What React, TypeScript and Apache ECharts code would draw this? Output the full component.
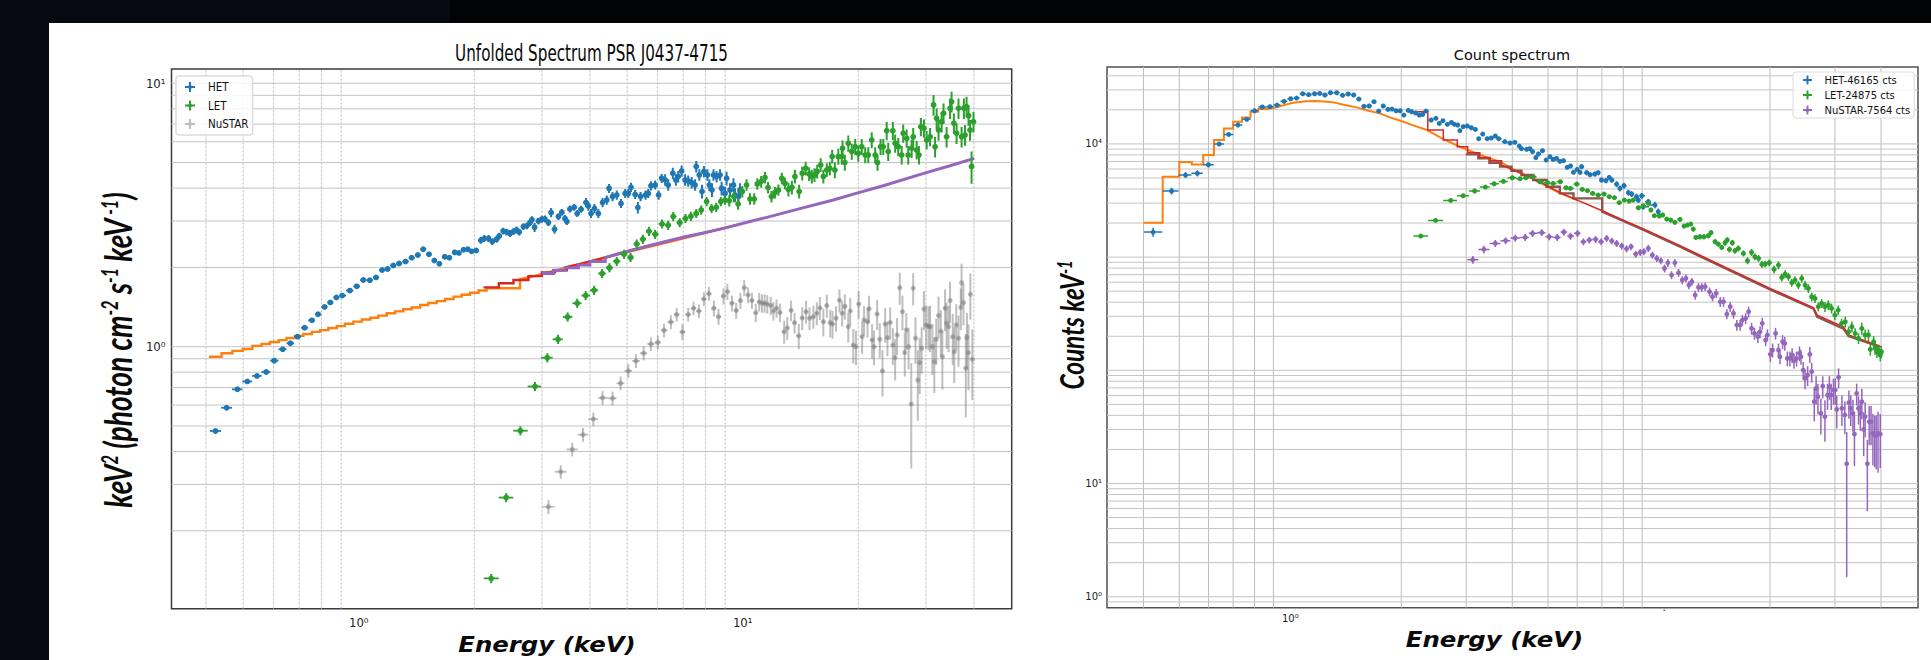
import React, { useEffect, useRef } from "react";
import * as echarts from "echarts";

// Values are decades: log10(energy in keV), log10(flux), log10(counts per keV)
const leftHetLogE = [-.373,-.344,-.316,-.290,-.265,-.241,-.220,-.198,-.178,-.159,-.141,-.122,-.106,-.089,-.074,-.058,-.043,-.023,-.005,.012,.029,.045,.061,.075,.090,.105,.122,.138,.154,.168,.183,.197,.210,.224,.236,.250,.261,.273,.284,.294,.306,.318,.327,.338,.348,.359,.366,.376,.385,.394,.403,.411,.418,.429,.438,.446,.451,.458,.468,.477,.485,.494,.501,.510,.520,.529,.537,.542,.550,.561,.569,.579,.592,.598,.605,.614,.624,.635,.646,.652,.661,.672,.683,.694,.702,.709,.720,.727,.734,.747,.754,.761,.772,.781,.789,.798,.806,.818,.826,.832,.841,.850,.858,.867,.876,.879,.887,.894,.899,.908,.913,.920,.924,.932,.941,.945,.954,.958,.967,.976,.980,.989,.993];
const leftHetLogFlux = [-.320,-.232,-.162,-.132,-.111,-.096,-.053,-.010,.013,.038,.072,.100,.123,.151,.168,.187,.194,.213,.229,.253,.252,.263,.291,.295,.308,.316,.323,.338,.348,.370,.351,.327,.315,.341,.338,.358,.356,.368,.370,.362,.365,.404,.411,.411,.399,.408,.420,.439,.435,.430,.437,.443,.435,.456,.459,.471,.482,.453,.477,.484,.485,.471,.509,.446,.494,.510,.487,.475,.523,.529,.506,.522,.547,.534,.506,.525,.506,.547,.557,.601,.570,.576,.544,.582,.582,.605,.578,.528,.570,.576,.582,.611,.614,.576,.639,.633,.614,.658,.633,.646,.667,.633,.629,.623,.614,.684,.652,.589,.665,.652,.614,.595,.652,.646,.652,.601,.582,.639,.595,.614,.576,.570,.595];
const leftHetErrPct = [2,2,2,2,2,2,2,2,2,2,2,2,2,2,2,2,2,2,2,2,2,2,2,2,2,2,2,2,2,2,2,2,2,2,2,2,2,2,2,2,2,3,3,3,3,3,3,3,3,3,3,3,3,3,3,3,3,4,3,3,3,3,4,4,3,3,3,3,3,3,3,3,4,4,4,4,4,4,4,4,4,4,4,4,4,4,4,5,4,4,4,4,4,4,4,5,5,5,5,5,5,5,5,5,5,5,5,6,5,5,5,6,5,5,5,6,6,6,6,6,6,6,6];

const leftLetLogE = [.345,.384,.421,.459,.491,.519,.544,.569,.591,.613,.634,.653,.672,.691,.708,.724,.740,.756,.772,.790,.806,.819,.836,.851,.865,.879,.892,.906,.919,.931,.943,.954,.965,.977,.988,.999,1.010,1.019,1.030,1.038,1.048,1.058,1.066,1.075,1.084,1.093,1.102,1.110,1.119,1.128,1.136,1.147,1.155,1.164,1.173,1.180,1.187,1.194,1.203,1.210,1.219,1.227,1.233,1.240,1.249,1.258,1.260,1.266,1.275,1.284,1.293,1.301,1.310,1.319,1.327,1.336,1.345,1.351,1.359,1.366,1.375,1.379,1.391,1.397,1.405,1.414,1.418,1.427,1.431,1.440,1.444,1.453,1.459,1.464,1.472,1.479,1.488,1.497,1.501,1.505,1.510,1.518,1.523,1.531,1.540,1.544,1.550,1.557,1.562,1.570,1.576,1.579,1.583,1.588,1.592,1.596,1.601];
const leftLetLogFlux = [-.880,-.573,-.319,-.151,-.042,.028,.113,.165,.194,.214,.278,.300,.324,.351,.339,.390,.408,.438,.427,.466,.461,.494,.471,.487,.495,.506,.519,.551,.525,.529,.551,.557,.554,.570,.542,.589,.614,.561,.561,.618,.627,.642,.604,.570,.585,.595,.639,.620,.597,.605,.646,.589,.658,.677,.656,.646,.652,.665,.690,.646,.671,.677,.722,.671,.722,.722,.753,.699,.772,.741,.759,.734,.759,.728,.728,.785,.728,.699,.759,.759,.820,.741,.820,.772,.759,.728,.810,.791,.728,.753,.797,.747,.728,.835,.829,.785,.797,.918,.759,.867,.823,.854,.886,.797,.905,.930,.848,.810,.905,.797,.905,.804,.911,.880,.823,.684,.854];
const leftLetErrPct = [4,4,4,4,4,4,4,4,4,4,4,4,4,4,4,4,4,4,4,4,4,4,4,4,4,4,4,4,4,4,4,4,5,5,5,5,5,5,5,5,5,5,5,5,5,5,5,5,6,6,6,6,6,6,6,6,6,6,6,6,6,6,6,7,7,7,7,7,7,7,7,7,7,7,7,7,7,7,7,7,8,8,8,8,8,8,8,8,8,8,8,8,8,8,8,8,8,9,9,9,9,9,9,9,9,9,9,9,9,9,9,9,9,9,9,14,9];

const leftNustarLogE = [.494,.526,.556,.584,.611,.635,.661,.682,.702,.722,.742,.761,.779,.795,.813,.828,.843,.858,.872,.886,.899,.912,.925,.937,.950,.960,.972,.983,.994,1.004,1.014,1.024,1.034,1.043,1.050,1.057,1.064,1.073,1.080,1.088,1.097,1.108,1.116,1.126,1.135,1.146,1.155,1.165,1.174,1.184,1.193,1.201,1.210,1.219,1.228,1.234,1.243,1.252,1.259,1.266,1.275,1.280,1.288,1.295,1.302,1.311,1.316,1.325,1.329,1.337,1.342,1.350,1.357,1.364,1.371,1.377,1.384,1.391,1.397,1.402,1.409,1.416,1.422,1.426,1.432,1.439,1.444,1.450,1.456,1.461,1.466,1.472,1.478,1.484,1.488,1.494,1.499,1.504,1.510,1.516,1.520,1.527,1.531,1.536,1.540,1.547,1.551,1.556,1.562,1.568,1.570,1.575,1.581,1.584,1.588,1.593,1.598];
const leftNustarLogFlux = [-.608,-.475,-.390,-.334,-.275,-.194,-.196,-.139,-.092,-.054,-.025,.010,.016,.062,.094,.122,.056,.122,.146,.135,.181,.201,.146,.114,.192,.209,.165,.137,.175,.224,.196,.175,.129,.170,.165,.165,.162,.156,.135,.146,.130,.057,.071,.138,.091,.041,.109,.133,.108,.114,.127,.147,.095,.156,.091,.086,.108,.176,.127,.153,.076,.135,.006,.000,.162,.038,.101,.095,.144,.025,.000,.124,.028,-.092,.086,.034,.092,.006,-.042,.044,.224,.133,-.022,.063,.000,-.218,.222,.032,-.127,-.061,-.006,.143,.082,.078,.076,.000,-.057,.028,.118,.059,-.038,.146,.089,.076,.175,.038,-.019,.082,.032,.149,.243,.167,-.082,.035,-.023,.199,-.048];
const leftNustarErrPct = [6,6,6,6,6,6,6,6,6,6,6,6,6,6,6,6,7,6,6,6,6,6,7,7,7,7,7,7,7,7,7,7,8,8,8,8,8,8,8,8,8,10,10,9,9,11,10,10,10,10,10,10,12,10,12,12,11,10,11,11,13,12,15,15,12,14,13,13,12,15,15,13,15,20,15,15,14,16,18,16,14,15,19,16,18,43,14,20,30,24,20,17,19,19,20,22,24,20,18,20,25,18,20,20,18,22,24,20,22,18,18,18,35,24,28,20,30];

const rightHetLogE = [-.372,-.322,-.284,-.252,-.222,-.193,-.167,-.142,-.118,-.097,-.076,-.055,-.036,-.017,.001,.017,.034,.050,.066,.080,.094,.109,.126,.142,.157,.172,.186,.200,.214,.227,.240,.252,.265,.276,.287,.298,.308,.320,.329,.340,.350,.359,.368,.382,.395,.404,.414,.426,.437,.445,.454,.460,.469,.480,.491,.502,.511,.522,.534,.545,.556,.565,.582,.596,.609,.621,.627,.641,.650,.657,.666,.673,.684,.694,.704,.713,.722,.731,.741,.751,.760,.768,.778,.786,.790,.804,.813,.826,.835,.844,.856,.865,.872,.885,.894,.905,.917,.926,.939,.944,.953,.971,.957,.989,.998];
const rightHetLogCounts = [3.221,3.584,3.725,3.740,3.816,3.999,4.084,4.167,4.217,4.293,4.326,4.329,4.343,4.376,4.399,4.405,4.443,4.435,4.443,4.446,4.432,4.452,4.452,4.429,4.441,4.432,4.396,4.332,4.335,4.373,4.290,4.335,4.305,4.308,4.293,4.293,4.255,4.296,4.284,4.273,4.255,4.261,4.290,4.211,4.226,4.181,4.205,4.173,4.190,4.173,4.167,4.117,4.152,4.158,4.143,4.128,4.046,4.087,4.046,4.052,4.070,4.046,4.020,4.008,4.014,3.981,3.958,3.952,3.958,3.932,3.879,3.911,3.940,3.858,3.887,3.863,3.872,3.846,3.852,3.793,3.805,3.749,3.775,3.749,3.799,3.746,3.728,3.734,3.746,3.681,3.675,3.705,3.681,3.645,3.607,3.631,3.569,3.557,3.534,3.504,3.542,3.489,3.445,3.460,3.401];
const rightHetErrPct = [9,7,6,6,5,4,4,3,3,3,3,2,2,2,2,2,2,2,2,2,2,2,2,2,2,2,2,2,2,2,2,2,2,2,2,2,2,2,2,3,3,3,3,3,3,3,3,3,3,3,3,3,3,3,3,3,3,3,3,3,3,3,3,3,3,3,3,3,4,4,4,4,4,4,4,4,4,4,4,4,4,4,4,5,5,5,5,5,5,5,5,5,5,6,6,6,6,6,6,6,6,6,6,7,7];

const rightLetLogE = [.354,.394,.435,.469,.500,.529,.553,.578,.602,.623,.639,.659,.677,.698,.713,.732,.748,.760,.777,.792,.806,.820,.835,.851,.865,.879,.892,.906,.919,.930,.944,.957,.971,.978,.987,1.001,1.010,1.021,1.032,1.043,1.057,1.068,1.077,1.086,1.093,1.100,1.111,1.122,1.134,1.141,1.152,1.161,1.170,1.179,1.185,1.191,1.199,1.206,1.215,1.229,1.240,1.251,1.260,1.270,1.279,1.288,1.299,1.312,1.324,1.333,1.342,1.351,1.360,1.369,1.378,1.387,1.396,1.405,1.414,1.423,1.432,1.441,1.450,1.459,1.468,1.477,1.486,1.495,1.505,1.514,1.523,1.532,1.541,1.550,1.559,1.568,1.573,1.582,1.586,1.591,1.595,1.600,1.603];
const rightLetLogCounts = [3.186,3.324,3.501,3.542,3.584,3.619,3.648,3.669,3.701,3.693,3.701,3.710,3.666,3.657,3.651,3.666,3.613,3.607,3.645,3.598,3.587,3.563,3.548,3.557,3.534,3.525,3.481,3.504,3.495,3.504,3.436,3.454,3.475,3.416,3.366,3.363,3.372,3.336,3.327,3.307,3.333,3.274,3.283,3.292,3.248,3.174,3.180,3.180,3.189,3.216,3.136,3.115,3.086,3.127,3.151,3.068,3.127,3.057,3.077,3.033,2.968,3.042,3.003,2.989,2.936,2.939,2.950,2.892,2.930,2.821,2.850,2.827,2.774,2.797,2.753,2.812,2.753,2.724,2.650,2.635,2.562,2.591,2.562,2.577,2.547,2.488,2.532,2.415,2.429,2.341,2.385,2.326,2.282,2.370,2.312,2.312,2.185,2.253,2.194,2.164,2.179,2.135,2.164];
const rightLetErrPct = [4,3,3,3,3,3,3,3,3,3,3,3,3,3,3,3,3,3,3,3,3,3,3,3,3,3,3,3,3,3,3,3,3,3,3,3,4,4,4,4,4,4,4,4,5,5,5,5,5,5,5,5,5,6,6,6,6,6,6,6,7,7,7,7,7,7,7,8,8,8,8,8,8,8,8,8,9,9,9,9,9,9,10,10,10,10,10,10,11,11,11,11,11,12,12,12,12,12,12,12,12,12,12];

const rightNustarLogE = [.495,.525,.556,.584,.610,.637,.657,.682,.702,.724,.742,.760,.779,.795,.811,.828,.843,.858,.872,.885,.899,.912,.924,.937,.949,.959,.971,.982,.994,1.005,1.015,1.024,1.034,1.043,1.053,1.063,1.073,1.081,1.089,1.098,1.107,1.116,1.125,1.137,1.145,1.155,1.166,1.175,1.184,1.193,1.202,1.211,1.220,1.226,1.235,1.243,1.251,1.259,1.268,1.274,1.280,1.289,1.294,1.302,1.308,1.316,1.324,1.328,1.335,1.341,1.348,1.355,1.361,1.366,1.373,1.381,1.385,1.391,1.396,1.403,1.409,1.414,1.421,1.426,1.431,1.439,1.444,1.450,1.457,1.462,1.467,1.473,1.478,1.482,1.487,1.496,1.504,1.509,1.515,1.520,1.526,1.530,1.536,1.541,1.546,1.550,1.555,1.559,1.565,1.570,1.575,1.580,1.585,1.589,1.594,1.600];
const rightNustarLogCounts = [2.977,3.068,3.121,3.145,3.168,3.174,3.210,3.216,3.180,3.174,3.221,3.186,3.210,3.136,3.151,3.157,3.136,3.165,3.142,3.121,3.098,3.074,3.092,3.027,3.042,3.048,3.077,3.018,2.989,2.968,2.900,2.950,2.842,2.950,2.862,2.797,2.812,2.753,2.783,2.665,2.733,2.733,2.739,2.694,2.650,2.680,2.606,2.606,2.497,2.562,2.503,2.400,2.400,2.444,2.459,2.518,2.370,2.326,2.297,2.341,2.415,2.267,2.312,2.141,2.179,2.326,2.179,2.120,2.253,2.238,2.105,2.105,2.135,2.085,2.105,2.150,2.120,2.002,1.929,1.958,2.141,1.988,1.723,1.840,1.767,1.620,1.861,1.590,1.781,1.855,1.781,1.826,1.826,1.655,1.938,1.664,1.605,1.175,1.714,1.664,1.620,1.437,1.796,1.664,1.620,1.723,1.478,1.590,1.175,1.546,1.546,1.443,1.428,1.428,1.443,1.437];
const rightNustarErrPct = [8,8,7,7,7,7,7,7,7,7,7,7,7,7,7,7,7,7,7,7,7,7,7,7,7,7,7,7,7,7,8,8,8,8,8,8,8,8,8,9,9,9,9,9,9,9,10,10,10,10,10,11,11,11,11,11,12,12,12,12,12,12,12,14,14,12,14,14,14,14,15,15,15,15,15,15,15,18,20,20,16,20,33,28,30,35,22,40,26,24,26,26,26,32,20,30,32,90,28,30,32,48,22,28,30,30,42,34,62,38,38,48,48,50,55,50];

const leftModelHetLogE = [-.390,-.357,-.329,-.302,-.277,-.253,-.231,-.208,-.188,-.166,-.144,-.122,-.101,-.079,-.057,-.036,-.014,.008,.030,.051,.073,.095,.116,.138,.160,.181,.203,.225,.247,.268,.290,.312,.333];
const leftModelHetLogFlux = [-.038,-.025,-.016,-.009,.003,.010,.018,.025,.033,.041,.048,.056,.063,.071,.078,.087,.095,.103,.110,.118,.127,.134,.142,.149,.158,.166,.173,.181,.190,.197,.205,.213,.222];
const leftModelHetTailLogE = [.420,.477,.628,.802,.993];
const leftModelHetTailLogFlux = [.256,.275,.334,.395,.465];
const leftModelLetLogE = [.325,.365,.403,.442,.477,.511];
const leftModelLetLogFlux = [.225,.241,.253,.268,.282,.290];
const leftModelLetTailLogE = [.542,.572,.602,.637,.672,.715,.759,.802,.854,.906,.955];
const leftModelLetTailLogFlux = [.303,.312,.323,.336,.351,.368,.384,.400,.418,.434,.451];
const leftModelNustarLogE = [.477,.507,.537,.572,.602];
const leftModelNustarLogFlux = [.278,.290,.300,.310,.323];
const leftModelNustarTailLogE = [.642,.672,.708,.759,.802,.854,.906,.955,1.019,1.063,1.149,1.236,1.302,1.366,1.478,1.540,1.603];
const leftModelNustarTailLogFlux = [.338,.351,.365,.384,.400,.418,.435,.451,.475,.491,.524,.557,.585,.611,.661,.687,.715];

const rightModelHetLogE = [-.398,-.346,-.301,-.267,-.236,-.207,-.180,-.155,-.131,-.108,-.087];
const rightModelHetLogCounts = [3.304,3.710,3.840,3.819,3.902,4.034,4.137,4.196,4.234,4.284,4.308];
const rightModelHetTailLogE = [-.064,-.046,-.028,-.010,.008,.026,.044,.071,.099,.117,.148,.180,.212,.243,.270,.301,.334,.370,.415,.460,.481,.542,.569,.600,.650,.732,.778];
const rightModelHetTailLogCounts = [4.314,4.317,4.332,4.349,4.364,4.370,4.376,4.379,4.373,4.367,4.343,4.323,4.293,4.270,4.234,4.202,4.164,4.123,4.043,3.975,3.946,3.872,3.843,3.784,3.704,3.563,3.504];
const rightModelLetLogE = [.343,.373,.415,.453,.481,.514,.542];
const rightModelLetLogCounts = [4.284,4.123,4.034,3.975,3.922,3.881,3.852];
const rightModelLetTailLogE = [.573,.605,.641,.677,.700,.731,.778,.846,.903,.955,1.057,1.129,1.301,1.419,1.429,1.500,1.514,1.554,1.602];
const rightModelLetTailLogCounts = [3.813,3.769,3.716,3.666,3.622,3.572,3.504,3.410,3.327,3.254,3.101,2.989,2.724,2.553,2.488,2.385,2.312,2.267,2.208];
const rightModelNustarLogE = [.476,.510,.540,.569,.600,.627,.659,.695,.731,.768];
const rightModelNustarLogCounts = [3.908,3.872,3.834,3.799,3.763,3.725,3.681,3.622,3.563,3.519];
const rightModelNustarTailLogE = [.846,.903,.955,1.057,1.129,1.301,1.419,1.429,1.500,1.514,1.554,1.599];
const rightModelNustarTailLogCounts = [3.401,3.319,3.245,3.092,2.980,2.715,2.544,2.473,2.368,2.303,2.259,2.208];

const energyGridValues = [.4,.5,.6,.7,.8,.9,2,3,4,5,6,7,8,9,20,30,40];
const leftFluxGridValues = [.2,.3,.4,.5,.6,.7,.8,.9,1,2,3,4,5,6,7,8,9,10];
const rightCountGridValues = [.9,1,2,3,4,5,6,7,8,9,10,20,30,40,50,60,70,80,90,100,200,300,400,500,600,700,800,900,1000,2000,3000,4000,5000,6000,7000,8000,9000,10000,20000,30000,40000];
const leftEnergyTickLabels = [1, 10];
const rightEnergyTickLabels = [1];
const leftFluxTickLabels = [1, 10];
const rightCountTickLabels = [1, 10, 10000];

const BLUE = "#1f77b4", ORANGE = "#ff7f0e", GREEN = "#2ca02c", RED = "#d62728", PURPLE = "#9467bd", BROWN = "#8c564b", GREY = "#7f7f7f";
const ICON = "path://M4 0h2v3.2a2 2 0 0 1 .8.8H10v2H6.8a2 2 0 0 1-.8.8V10H4V6.8a2 2 0 0 1-.8-.8H0V4h3.2a2 2 0 0 1 .8-.8z";
const SUP: Record<number, string> = { 0: "\u2070", 1: "\u00b9", 4: "\u2074" };
const decadeLabel = (v: number) => "10" + (SUP[Math.round(Math.log10(v))] ?? "");
const NARROW = '"DejaVu Sans Condensed", Lato, sans-serif';

function pointData(logE: number[], logV: number[], pct: number[]) {
  return logE.map((e, i) => {
    const prev = i > 0 ? Math.abs(e - logE[i - 1]) : Math.abs(logE[1] - e);
    const next = i < logE.length - 1 ? Math.abs(logE[i + 1] - e) : prev;
    const v = 10 ** logV[i];
    const p = (pct[i] ?? pct[pct.length - 1]) / 100;
    return [10 ** e, v, 10 ** (e - prev / 2), 10 ** (e + next / 2), Math.max(v * (1 - p), v * 0.02), v * (1 + p)];
  });
}

function pointSeries(name: string, color: string, axis: number, data: number[][], r: number, xw: number, yw: number, opacity = 1) {
  return {
    type: "custom", name, xAxisIndex: axis, yAxisIndex: axis, z: 5, data, clip: true,
    itemStyle: { color, opacity }, encode: { x: 0, y: 1 }, silent: true,
    renderItem: (_: any, api: any) => {
      const c = api.coord([api.value(0), api.value(1)]);
      const l = api.coord([api.value(2), api.value(1)]);
      const h = api.coord([api.value(3), api.value(1)]);
      const b = api.coord([api.value(0), api.value(4)]);
      const t = api.coord([api.value(0), api.value(5)]);
      return {
        type: "group",
        children: [
          { type: "line", shape: { x1: l[0], y1: c[1], x2: h[0], y2: c[1] }, style: { stroke: color, lineWidth: xw, opacity } },
          { type: "line", shape: { x1: c[0], y1: b[1], x2: c[0], y2: t[1] }, style: { stroke: color, lineWidth: yw, opacity } },
          { type: "circle", shape: { cx: c[0], cy: c[1], r }, style: { fill: color, opacity } },
        ],
      };
    },
  };
}

function modelPoints(stepE: number[], stepV: number[], tailE: number[], tailV: number[]) {
  const out: number[][] = [];
  stepE.forEach((e, i) => {
    const nextE = i < stepE.length - 1 ? stepE[i + 1] : tailE[0];
    out.push([10 ** e, 10 ** stepV[i]], [10 ** nextE, 10 ** stepV[i]]);
  });
  tailE.forEach((e, i) => out.push([10 ** e, 10 ** tailV[i]]));
  return out;
}

function modelSeries(name: string, color: string, axis: number, data: number[][], width: number, z: number) {
  return {
    type: "line", name, xAxisIndex: axis, yAxisIndex: axis, data, z, showSymbol: false, symbol: "none",
    lineStyle: { color, width, join: "miter" }, silent: true,
  };
}

function gridSeries(axis: number, vertical: boolean, values: number[], fixed: number, other: number, stroke: string, dash?: number[]) {
  return {
    type: "custom", xAxisIndex: axis, yAxisIndex: axis, z: 1, silent: true,
    data: values.map((v) => (vertical ? [v, fixed] : [fixed, v])), encode: { x: 0, y: 1 },
    renderItem: (_: any, api: any) => {
      const a = api.coord([api.value(0), api.value(1)]);
      const b = vertical ? api.coord([api.value(0), other]) : api.coord([other, api.value(1)]);
      return {
        type: "line", shape: { x1: a[0], y1: a[1], x2: b[0], y2: b[1] },
        style: { stroke, lineWidth: 1, lineDash: dash },
      };
    },
  };
}

function label(text: string, x: number, y: number, font: string, scaleX = 1, rotation = 0, scaleY = 1) {
  return {
    type: "text", x, y, scaleX, scaleY, rotation, z: 20,
    style: { text, font, fill: "#0a0a0a", textAlign: "center", textVerticalAlign: "middle" },
  };
}

function richLabel(text: string, x: number, y: number, rich: any, scaleX: number, rotation: number) {
  return {
    type: "text", x, y, scaleX, rotation, z: 20,
    style: { text, rich, fill: "#0a0a0a", textAlign: "center", textVerticalAlign: "middle" },
  };
}

const X0 = [0.3254, 50.18], Y0 = [0.1012, 11.33], X1 = [0.3184, 50.39], Y1 = [0.8, 47800];

function buildOption() {
  const logAxis = (index: number, ext: number[], labels: number[], font: any, margin: number) => ({
    type: "log", logBase: 10, gridIndex: index, min: ext[0], max: ext[1],
    axisLine: { show: false }, axisTick: { show: false }, splitLine: { show: false }, minorSplitLine: { show: false }, minorTick: { show: false },
    axisLabel: { customValues: labels, formatter: decadeLabel, margin, color: "#222", ...font, hideOverlap: false, showMinLabel: true, showMaxLabel: true },
  });
  const leftFont = { fontFamily: NARROW, fontSize: 13 };
  const rightFont = { fontFamily: "DejaVu Sans", fontSize: 10 };
  const legendBase = {
    orient: "vertical", align: "left", selectedMode: false, backgroundColor: "rgba(255,255,255,0.85)",
    borderColor: "#dcdcdc", borderRadius: 3, itemStyle: { borderWidth: 0 },
  };
  const supLeft = {
    a: { font: "italic bold 38px Lato", fill: "#0a0a0a" },
    s: { font: "italic bold 22px Lato", fill: "#0a0a0a", verticalAlign: "top" },
  };
  return {
    animation: false,
    backgroundColor: "transparent",
    grid: [
      { left: 171.5, top: 69, width: 840.2, height: 539.7, show: true, borderColor: "#3a3a3a", borderWidth: 1.5, backgroundColor: "transparent" },
      { left: 1107, top: 67, width: 811, height: 540.7, show: true, borderColor: "#505050", borderWidth: 1.5, backgroundColor: "transparent" },
    ],
    xAxis: [logAxis(0, X0, leftEnergyTickLabels, leftFont, 7), logAxis(1, X1, rightEnergyTickLabels, rightFont, 6)],
    yAxis: [logAxis(0, Y0, leftFluxTickLabels, leftFont, 6), logAxis(1, Y1, rightCountTickLabels, rightFont, 5)],
    legend: [
      {
        ...legendBase, left: 176, top: 76, padding: [5, 4, 5, 9], itemWidth: 10, itemHeight: 14, itemGap: 6.5, borderWidth: 1.5,
        data: ["HET", "LET", "NuSTAR"].map((name) => ({ name, icon: ICON })),
        textStyle: { fontFamily: NARROW, fontSize: 11.5, color: "#111", padding: [0, 0, 0, 8] },
      },
      {
        ...legendBase, left: 1793, top: 72, padding: [3, 4, 3, 10], itemWidth: 10, itemHeight: 9, itemGap: 5, borderWidth: 1,
        data: ["HET-46165 cts", "LET-24875 cts", "NuSTAR-7564 cts"].map((name) => ({ name, icon: ICON })),
        textStyle: { fontFamily: "DejaVu Sans", fontSize: 10, color: "#111", padding: [0, 0, 0, 7] },
      },
    ],
    graphic: [
      label("Unfolded Spectrum PSR J0437-4715", 591.5, 53, "20px DejaVu Sans", 0.76, 0, 1.12),
      label("Energy (keV)", 547, 644, "italic bold 20px DejaVu Sans", 1.22, 0, 1.1),
      label("Count spectrum", 1512, 55, "14.5px DejaVu Sans"),
      label("Energy (keV)", 1494.5, 638.5, "italic bold 20px DejaVu Sans", 1.22, 0, 1.1),
      label(".", 1664, 607, "10px DejaVu Sans"),
      richLabel("{a|keV}{s|2}{a| (photon cm}{s|-2}{a| s}{s|-1}{a| keV}{s| -1}{a|)}", 117, 350, supLeft, 0.74, Math.PI / 2),
      richLabel("{a|Counts keV}{s|-1}", 1071, 325, {
        a: { font: "italic bold 33px Lato", fill: "#0a0a0a" },
        s: { font: "italic bold 20px Lato", fill: "#0a0a0a", verticalAlign: "top" },
      }, 0.74, Math.PI / 2),
    ],
    series: [
      gridSeries(0, true, energyGridValues, Y0[0], Y0[1], "#c2c2c2", [2.5, 1.5]),
      gridSeries(0, false, leftFluxGridValues, X0[0], X0[1], "#c4c4c4"),
      gridSeries(1, true, energyGridValues, Y1[0], Y1[1], "#bdbdbd"),
      gridSeries(1, false, rightCountGridValues, X1[0], X1[1], "#c4c4c4"),

      modelSeries("HET model", ORANGE, 0, modelPoints(leftModelHetLogE, leftModelHetLogFlux, leftModelHetTailLogE, leftModelHetTailLogFlux), 2.4, 2),
      modelSeries("LET model", RED, 0, modelPoints(leftModelLetLogE, leftModelLetLogFlux, leftModelLetTailLogE, leftModelLetTailLogFlux), 2.4, 3),
      modelSeries("NuSTAR model", PURPLE, 0, modelPoints(leftModelNustarLogE, leftModelNustarLogFlux, leftModelNustarTailLogE, leftModelNustarTailLogFlux), 3, 4),

      modelSeries("HET model right", ORANGE, 1, modelPoints(rightModelHetLogE, rightModelHetLogCounts, rightModelHetTailLogE, rightModelHetTailLogCounts), 2, 2),
      modelSeries("NuSTAR model right", BROWN, 1, modelPoints(rightModelNustarLogE, rightModelNustarLogCounts, rightModelNustarTailLogE, rightModelNustarTailLogCounts), 2.4, 3),
      modelSeries("LET model right", RED, 1, modelPoints(rightModelLetLogE, rightModelLetLogCounts, rightModelLetTailLogE, rightModelLetTailLogCounts), 1.5, 4),

      pointSeries("HET", BLUE, 0, pointData(leftHetLogE, leftHetLogFlux, leftHetErrPct), 2.9, 1.8, 2),
      pointSeries("LET", GREEN, 0, pointData(leftLetLogE, leftLetLogFlux, leftLetErrPct), 2.9, 1.8, 2),
      pointSeries("NuSTAR", GREY, 0, pointData(leftNustarLogE, leftNustarLogFlux, leftNustarErrPct), 2.6, 1.8, 2, 0.5),

      pointSeries("HET-46165 cts", BLUE, 1, pointData(rightHetLogE, rightHetLogCounts, rightHetErrPct), 2.5, 1.5, 1.5),
      pointSeries("LET-24875 cts", GREEN, 1, pointData(rightLetLogE, rightLetLogCounts, rightLetErrPct), 2.5, 1.5, 1.5),
      pointSeries("NuSTAR-7564 cts", PURPLE, 1, pointData(rightNustarLogE, rightNustarLogCounts, rightNustarErrPct), 2.4, 1.5, 1.5),
    ],
  };
}

export default function App() {
  const ref = useRef<HTMLDivElement>(null);
  useEffect(() => {
    document.body.style.margin = "0";
    const chart = echarts.init(ref.current!, undefined, { renderer: "svg" });
    chart.setOption(buildOption() as any);
    return () => chart.dispose();
  }, []);
  return (
    <div style={{ position: "relative", width: 1931, height: 660, background: "#070b11", overflow: "hidden" }}>
      <div style={{ position: "absolute", left: 450, top: 0, width: 1481, height: 23, background: "#020304" }} />
      <div style={{ position: "absolute", left: 49, top: 23, width: 1882, height: 637, background: "#ffffff" }} />
      <div ref={ref} style={{ position: "absolute", left: 0, top: 0, width: 1931, height: 660 }} />
    </div>
  );
}
